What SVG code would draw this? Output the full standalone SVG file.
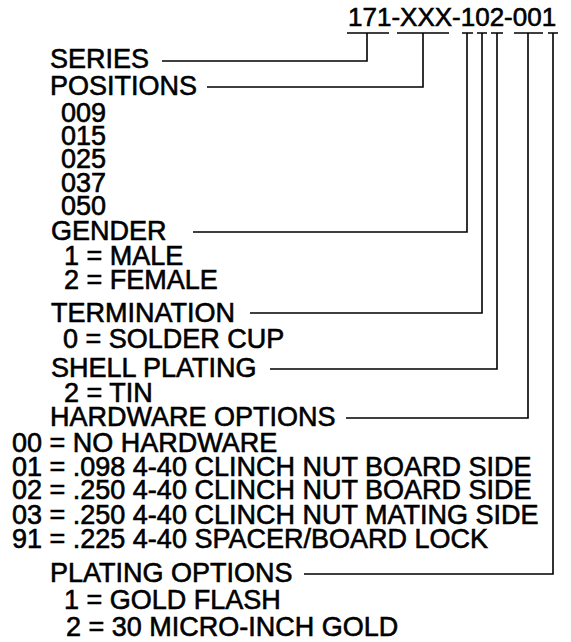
<svg xmlns="http://www.w3.org/2000/svg" width="571" height="642" viewBox="0 0 571 642">
<style>
text{font-family:"Liberation Sans",Arial,sans-serif;font-size:27px;fill:#000;stroke:#000;stroke-width:0.6}
.pn{font-size:26px}
.c{fill:none;stroke:#000;stroke-width:1.6}
</style>
<rect width="571" height="642" fill="#fff"/>
<g id="part-number"><text class="pn" x="348" y="26">171-XXX-102-001</text></g>
<g id="series"><text x="50" y="68">SERIES</text></g>
<g id="positions"><text x="50" y="95">POSITIONS</text>
<text x="61" y="122">009</text><text x="61" y="145">015</text><text x="61" y="168">025</text><text x="61" y="192">037</text><text x="61" y="215">050</text></g>
<g id="gender"><text x="51" y="240">GENDER</text><text x="64" y="265">1 = MALE</text><text x="64" y="289">2 = FEMALE</text></g>
<g id="termination"><text x="51" y="322">TERMINATION</text><text x="63" y="348">0 = SOLDER CUP</text></g>
<g id="shell-plating"><text x="51" y="377">SHELL PLATING</text><text x="64" y="402">2 = TIN</text></g>
<g id="hardware"><text x="50" y="426">HARDWARE OPTIONS</text>
<text x="12" y="452">00 = NO HARDWARE</text>
<text x="12" y="476">01 = .098 4-40 CLINCH NUT BOARD SIDE</text>
<text x="12" y="499">02 = .250 4-40 CLINCH NUT BOARD SIDE</text>
<text x="12" y="524">03 = .250 4-40 CLINCH NUT MATING SIDE</text>
<text x="12" y="548">91 = .225 4-40 SPACER/BOARD LOCK</text></g>
<g id="plating"><text x="50" y="582">PLATING OPTIONS</text><text x="64" y="609">1 = GOLD FLASH</text><text x="66" y="636">2 = 30 MICRO-INCH GOLD</text></g>
<g id="connectors">
<path class="c" d="M347 33H389M367 33V61H162"/>
<path class="c" d="M397 33H449M423 33V87H207"/>
<path class="c" d="M462 33H473M467 33V232H193"/>
<path class="c" d="M477 33H487M482 33V313H250"/>
<path class="c" d="M491 33H503M497 33V369H270"/>
<path class="c" d="M514 33H543M528 33V418H346"/>
<path class="c" d="M548 33H558M553 33V574H304"/>
</g>
</svg>
